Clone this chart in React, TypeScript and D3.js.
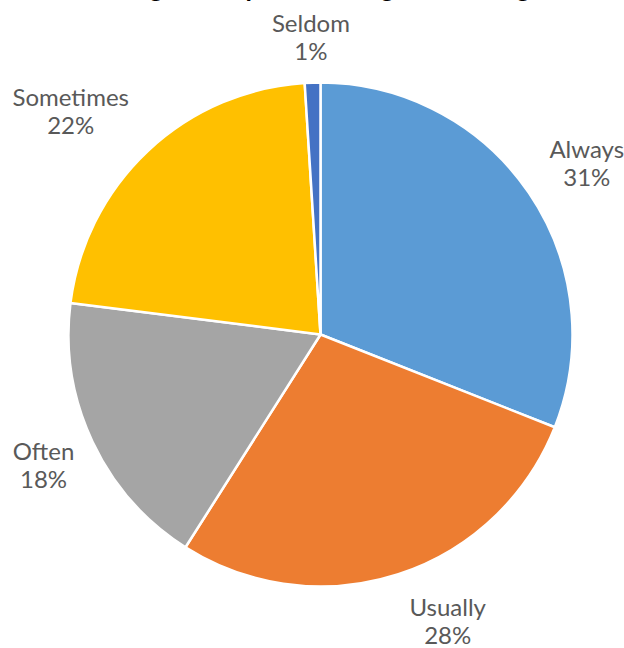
import React from "react";
import * as d3 from "d3";

const categories = ["Always", "Usually", "Often", "Sometimes", "Seldom"];
const values = [31, 28, 18, 22, 1];
const colors = ["#5B9BD5", "#ED7D31", "#A5A5A5", "#FFC000", "#4472C4"];
const titleText = "Doing a final proofreading and editing";

// small label nudges relative to the computed outside position
const labelNudges: [number, number][] = [
  [14, -1],
  [33, -4],
  [-1, 0],
  [-41, -2],
  [0, 7],
];

export default function App() {
  const width = 624;
  const height = 648;
  const cx = 320.5;
  const cy = 334.5;
  const r = 252;
  const data = categories.map((c, i) => ({ c, v: values[i], i }));
  const pie = d3.pie<any>().value((d) => d.v).sort(null);
  const arcs = pie(data);
  const arc = d3.arc<any>().innerRadius(0).outerRadius(r);
  const labelArc = d3.arc<any>().innerRadius(305).outerRadius(305);
  const total = d3.sum(values);
  const fmt = (v: number) => `${Math.round((v / total) * 100)}%`;

  return (
    <svg
      width={width}
      height={height}
      style={{ position: "absolute", left: 0, top: 0, background: "#fff" }}
      fontFamily="Lato, 'Open Sans', sans-serif"
    >
      <text
        x={312}
        y={-3.5}
        textAnchor="middle"
        fontWeight="bold"
        fontSize={26}
        fill="#000"
      >
        {titleText}
      </text>
      <g transform={`translate(${cx},${cy})`}>
        {arcs.map((a, i) => (
          <path
            key={i}
            d={arc(a) as string}
            fill={colors[i]}
            stroke="#fff"
            strokeWidth={2.5}
            strokeLinejoin="round"
          />
        ))}
        {arcs.map((a, i) => {
          const [lx, ly] = labelArc.centroid(a);
          const x = lx + labelNudges[i][0];
          const y = ly + labelNudges[i][1];
          return (
            <text
              key={"l" + i}
              x={x}
              textAnchor="middle"
              fontSize={24}
              fill="#595959"
            >
              <tspan x={x} y={y - 4.5}>
                {a.data.c}
              </tspan>
              <tspan x={x} y={y + 23.5}>
                {fmt(a.data.v)}
              </tspan>
            </text>
          );
        })}
      </g>
    </svg>
  );
}
